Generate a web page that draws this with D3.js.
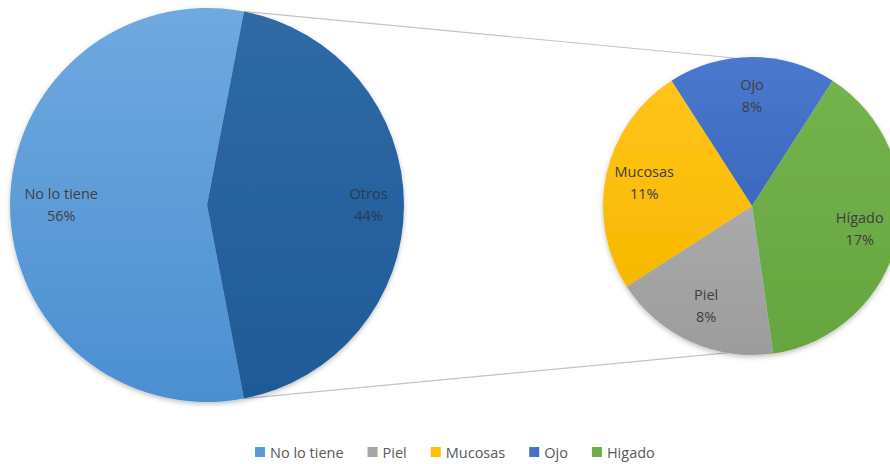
<!DOCTYPE html>
<html>
<head>
<meta charset="utf-8">
<script src="https://cdn.jsdelivr.net/npm/d3@7"></script>
<style>
  html, body { margin: 0; padding: 0; background: #fff; }
  svg { display: block; font-family: "Open Sans", "Noto Sans", sans-serif; }
</style>
</head>
<body>
<svg id="chart" width="890" height="464"></svg>
<script>
// Primary pie: share of patients with / without the condition
const primaryCategories = ["No lo tiene", "Otros"];
const primaryValues = [56, 44];
// Secondary pie: breakdown of "Otros" by affected organ
const secondaryCategories = ["Ojo", "Hígado", "Piel", "Mucosas"];
const secondaryValues = [8, 17, 8, 11];
// Legend entries
const legendLabels = ["No lo tiene", "Piel", "Mucosas", "Ojo", "Higado"];

const colors = {
  "No lo tiene": ["#6fa9e0", "#4b8fd1"],
  "Otros": ["#2f6aa6", "#1f5a97"],
  "Ojo": ["#4a78cc", "#3c69bf"],
  "Hígado": ["#74b24d", "#66a63f"],
  "Higado": ["#74b24d", "#66a63f"],
  "Piel": ["#aaaaaa", "#9c9c9c"],
  "Mucosas": ["#ffc41a", "#f7b900"]
};
const legendColors = {
  "No lo tiene": "#5b9bd5", "Piel": "#a5a5a5", "Mucosas": "#ffc000",
  "Ojo": "#4472c4", "Higado": "#70ad47"
};

const svg = d3.select("#chart");
const defs = svg.append("defs");
const keyId = k => "g" + k.normalize("NFD").replace(/[^A-Za-z]/g, "");
Object.entries(colors).forEach(([k, c]) => {
  const g = defs.append("linearGradient").attr("id", keyId(k))
    .attr("x1", 0).attr("y1", 0).attr("x2", 0).attr("y2", 1);
  g.append("stop").attr("offset", "0%").attr("stop-color", c[0]);
  g.append("stop").attr("offset", "100%").attr("stop-color", c[1]);
});
const shadow = defs.append("filter").attr("id", "shadow")
  .attr("x", "-10%").attr("y", "-10%").attr("width", "120%").attr("height", "120%");
shadow.append("feDropShadow").attr("dx", 0).attr("dy", 2).attr("stdDeviation", 2.5)
  .attr("flood-color", "#000").attr("flood-opacity", 0.25);

const pct = d3.format(".0%");
const total = d3.sum(primaryValues);

// Geometry
const P = { cx: 207, cy: 205, r: 197 };
const S = { cx: 752, cy: 206, r: 149 };

// Primary pie: "Otros" slice is centred on the right (90°)
const otrosFrac = primaryValues[1] / total;
const pStart = Math.PI / 2 - otrosFrac * Math.PI - (primaryValues[0] / total) * 2 * Math.PI;
const primaryPie = d3.pie().sort(null).value(d => d)
  .startAngle(pStart).endAngle(pStart + 2 * Math.PI);
const pArcs = primaryPie(primaryValues);

// Secondary pie: first slice centred at the top
const sTotal = d3.sum(secondaryValues);
const sStart = -(secondaryValues[0] / sTotal) * Math.PI;
const secondaryPie = d3.pie().sort(null).value(d => d)
  .startAngle(sStart).endAngle(sStart + 2 * Math.PI);
const sArcs = secondaryPie(secondaryValues);

const pArc = d3.arc().innerRadius(0).outerRadius(P.r);
const sArc = d3.arc().innerRadius(0).outerRadius(S.r);

const polar = (c, r, a) => [c.cx + r * Math.sin(a), c.cy - r * Math.cos(a)];

// Connector lines from the "Otros" slice edges to the secondary pie
const otros = pArcs[1];
const linePairs = [
  [polar(P, P.r, otros.startAngle), polar(S, S.r, -0.115)],
  [polar(P, P.r, otros.endAngle), polar(S, S.r, Math.PI + 0.17)]
];
svg.append("g").selectAll("line").data(linePairs).join("line")
  .attr("x1", d => d[0][0]).attr("y1", d => d[0][1])
  .attr("x2", d => d[1][0]).attr("y2", d => d[1][1])
  .attr("stroke", "#c4c4c4").attr("stroke-width", 1.2);

// Primary pie
const gp = svg.append("g").attr("transform", `translate(${P.cx},${P.cy})`)
  .attr("filter", "url(#shadow)");
gp.selectAll("path").data(pArcs).join("path")
  .attr("d", pArc)
  .attr("fill", (d, i) => `url(#${keyId(primaryCategories[i])})`);

// Secondary pie
const gs = svg.append("g").attr("transform", `translate(${S.cx},${S.cy})`)
  .attr("filter", "url(#shadow)");
gs.selectAll("path").data(sArcs).join("path")
  .attr("d", sArc)
  .attr("fill", (d, i) => `url(#${keyId(secondaryCategories[i])})`);

// Data labels
const fontSize = 14.5;
function addLabel(center, arc, radius, name, value, color) {
  const a = (arc.startAngle + arc.endAngle) / 2;
  const [x, y] = polar(center, radius, a);
  const t = svg.append("text").attr("text-anchor", "middle")
    .attr("font-size", fontSize).attr("fill", color);
  t.append("tspan").attr("x", x).attr("y", y - 6).text(name);
  t.append("tspan").attr("x", x).attr("y", y + 16).text(pct(value / total));
}
const primaryLabelRadius = [0.74, 0.82];
pArcs.forEach((d, i) => addLabel(P, d, P.r * primaryLabelRadius[i],
  primaryCategories[i], primaryValues[i], i === 0 ? "#404040" : "#2a3a50"));
sArcs.forEach((d, i) => addLabel(S, d, S.r * 0.74,
  secondaryCategories[i], secondaryValues[i], "#404040"));

// Legend
const legend = svg.append("g").attr("transform", "translate(255,452)");
let lx = 0;
legendLabels.forEach(name => {
  const item = legend.append("g").attr("transform", `translate(${lx},0)`);
  item.append("rect").attr("x", 0).attr("y", -5).attr("width", 10).attr("height", 10)
    .attr("fill", legendColors[name]);
  const txt = item.append("text").attr("x", 15).attr("y", 0)
    .attr("dominant-baseline", "central")
    .attr("font-size", fontSize).attr("fill", "#595959").text(name);
  lx += 15 + txt.node().getComputedTextLength() + 24;
});
</script>
</body>
</html>
